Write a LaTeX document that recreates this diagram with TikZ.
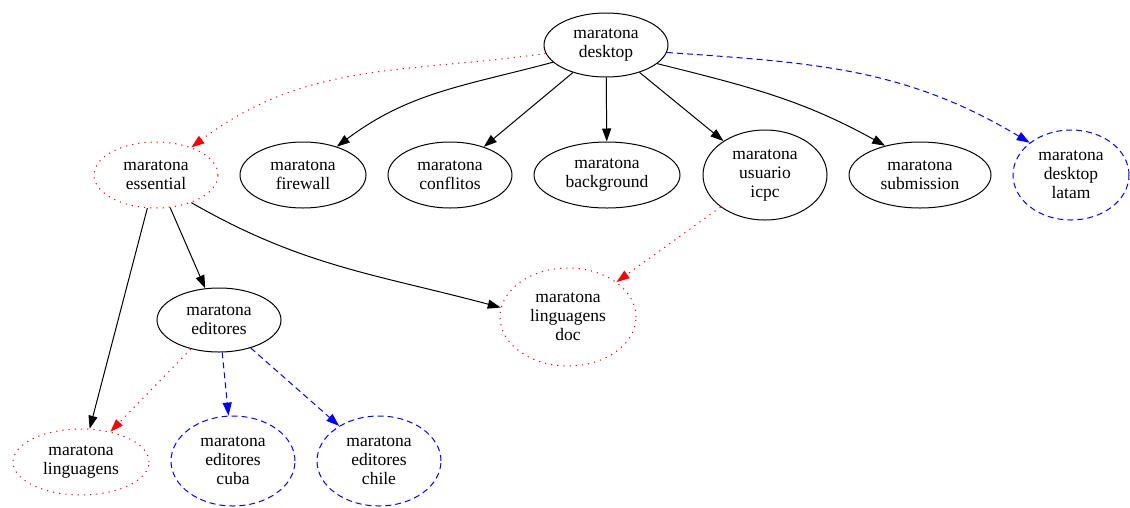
\documentclass[tikz,border=0pt]{standalone}
\usepackage{fontspec}
\setmainfont{Liberation Serif}
\usetikzlibrary{shapes.geometric,arrows.meta}

\begin{document}
\begin{tikzpicture}[x=1pt,y=1pt,
	pkg/.style={ellipse,draw,line width=1pt,inner sep=0pt,align=center,
		font=\fontsize{17.5}{19}\selectfont},
	pkgsug/.style={pkg,draw=red,dash pattern=on 1.2pt off 5pt},
	pkgrec/.style={pkg,draw=blue,dash pattern=on 6pt off 4pt},
	dep/.style={line width=1pt,-{Triangle[length=13pt,width=9pt]}},
	sug/.style={dep,red,dash pattern=on 1.2pt off 5pt},
	rec/.style={dep,blue,dash pattern=on 6pt off 4pt}]
	\useasboundingbox (0,0) rectangle (1130,-507);

	% top
	\node[pkg,minimum width=124pt,minimum height=64pt] (desktop) at (606,-45) {maratona\\desktop};

	% second row
	\node[pkgsug,minimum width=124pt,minimum height=66pt] (essential) at (156,-175) {maratona\\essential};
	\node[pkg,minimum width=126pt,minimum height=66pt] (firewall) at (303,-175) {maratona\\firewall};
	\node[pkg,minimum width=124pt,minimum height=66pt] (conflitos) at (450,-175) {maratona\\conflitos};
	\node[pkg,minimum width=146pt,minimum height=66pt] (background) at (607,-175) {maratona\\background};
	\node[pkg,minimum width=124pt,minimum height=90pt] (usuario) at (765,-175) {maratona\\usuario\\icpc};
	\node[pkg,minimum width=142pt,minimum height=66pt] (submission) at (920,-175) {maratona\\submission};
	\node[pkgrec,minimum width=116pt,minimum height=90pt] (latam) at (1071,-175) {maratona\\desktop\\latam};

	% third row
	\node[pkg,minimum width=124pt,minimum height=64pt] (editores) at (219,-320) {maratona\\editores};
	\node[pkgsug,minimum width=136pt,minimum height=98pt] (lingdoc) at (568,-317) {maratona\\linguagens\\doc};

	% bottom
	\node[pkgsug,minimum width=136pt,minimum height=66pt] (linguagens) at (81,-462) {maratona\\linguagens};
	\node[pkgrec,minimum width=124pt,minimum height=90pt] (cuba) at (233,-461) {maratona\\editores\\cuba};
	\node[pkgrec,minimum width=124pt,minimum height=90pt] (chile) at (379,-461) {maratona\\editores\\chile};

	% edges from desktop
	\draw[sug] (desktop.188) to[out=188,in=37] (essential.38);
	\draw[dep] (desktop.198) to[out=195,in=37] (firewall.40);
	\draw[dep] (desktop) -- (conflitos);
	\draw[dep] (desktop) -- (background);
	\draw[dep] (desktop) -- (usuario);
	\draw[dep] (desktop.340) to[out=-14,in=151] (submission.140);
	\draw[rec] (desktop.353) to[out=-4,in=149] (latam.142);

	% edges from essential
	\draw[dep] (essential) -- (editores);
	\draw[dep] (essential) -- (linguagens);
	\draw[dep] (essential.322) to[out=-30,in=165] (lingdoc.172);
	\draw[sug] (usuario) -- (lingdoc);

	% edges from editores
	\draw[sug] (editores) -- (linguagens);
	\draw[rec] (editores) -- (cuba);
	\draw[rec] (editores) -- (chile);
\end{tikzpicture}
\end{document}
